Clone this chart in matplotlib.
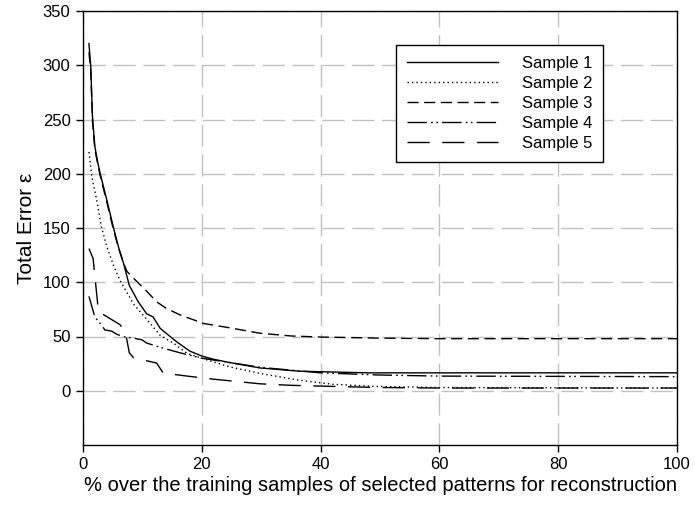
import matplotlib
matplotlib.use("Agg")
import matplotlib.pyplot as plt

plt.rcParams['font.family'] = ['Liberation Sans', 'DejaVu Sans']

# Data
x1 = [1, 1.3, 1.6, 2, 2.5, 2.9, 4, 5.1, 6, 6.8, 7.8, 9.3, 10.7, 11.8, 13, 14.1, 15.8, 18, 20, 22, 24.7, 29.8, 36.5, 48, 100]
y1 = [320, 300, 252, 225, 210, 200, 176, 151, 132, 118, 97, 82, 71, 68, 57.5, 52.5, 45, 36.5, 32, 29, 26, 21, 18, 16.5, 16.5]

x2 = [1, 1.5, 2.3, 3.1, 4, 5.1, 6.2, 8.5, 10.7, 13, 15.2, 17.5, 20.8, 24.7, 29.8, 36, 42, 49, 60, 100]
y2 = [220, 197, 176, 151, 133, 116, 102, 80, 66, 51, 44, 34.5, 28.5, 22, 16, 10, 6, 4, 3, 2.5]

x3 = [1, 1.3, 1.6, 2, 2.9, 4, 5.1, 6, 6.8, 7.4, 9, 10.5, 12.4, 14, 16.3, 20.3, 24.7, 29.8, 35, 40, 50, 60, 100]
y3 = [312, 295, 248, 222, 198, 174, 149, 131, 118, 110, 101, 93, 82, 76, 70, 62, 58, 53, 50.5, 49.5, 48.5, 48, 48]

x4 = [1, 2, 2.9, 3.7, 4.8, 5.7, 7.1, 8.5, 9.9, 10.7, 13, 16.3, 20, 24.7, 30, 40, 50, 60, 100]
y4 = [87, 68, 62, 56, 55, 52, 49.5, 48.5, 47, 44, 40, 35, 30, 26, 21.5, 16.5, 14.5, 13.5, 13]

x5 = [1, 1.7, 2.6, 6.2, 7.1, 7.8, 8.5, 12.4, 13.5, 18, 21.9, 29.8, 35, 42, 50, 60, 100]
y5 = [131, 122, 73, 61, 55, 35, 30.5, 25.5, 16.3, 13.2, 10.7, 6.4, 5, 4, 3, 2.5, 2.5]

labels = ["Sample 1", "Sample 2", "Sample 3", "Sample 4", "Sample 5"]
xticks = [0, 20, 40, 60, 80, 100]
yticks = [0, 50, 100, 150, 200, 250, 300, 350]

fig = plt.figure(figsize=(6.95, 5.05), dpi=100)
ax = fig.add_axes([83/695, 1 - 445/505, 594/695, 434/505])

styles = [
    '-',
    (0, (1, 2.2)),
    (0, (8, 4)),
    (0, (14, 3, 1.2, 2.5, 1.2, 3)),
    (0, (16, 9)),
]
series = [(x1, y1), (x2, y2), (x3, y3), (x4, y4), (x5, y5)]
for (xs, ys), ls, lab in zip(series, styles, labels):
    ax.plot(xs, ys, color='black', linestyle=ls, linewidth=1.0, label=lab)

ax.set_xlim(0, 100)
ax.set_ylim(-50, 350)
ax.set_xticks(xticks)
ax.set_yticks(yticks)
ax.grid(True, color='#c0c0c0', linestyle=(0, (16, 5.5)), linewidth=1.0)
ax.set_axisbelow(True)
for sp in ax.spines.values():
    sp.set_linewidth(1.0)
    sp.set_color('black')
ax.tick_params(direction='out', length=5, width=1, labelsize=12, colors='black')
ax.tick_params(axis='y', pad=4)
ax.set_xlabel("% over the training samples of selected patterns for reconstruction", fontsize=14.5, labelpad=3)
ax.set_ylabel("Total Error ε", fontsize=15, labelpad=5)

leg = ax.legend(loc='upper left', bbox_to_anchor=((396 - 83) / 594, (445 - 45) / 434),
                borderaxespad=0, fontsize=12, handlelength=5.45, handletextpad=1.45,
                labelspacing=0.3, borderpad=0.65, fancybox=False, framealpha=1,
                edgecolor='black')
leg.get_frame().set_linewidth(1.0)

fig.savefig("out.png", dpi=100)
